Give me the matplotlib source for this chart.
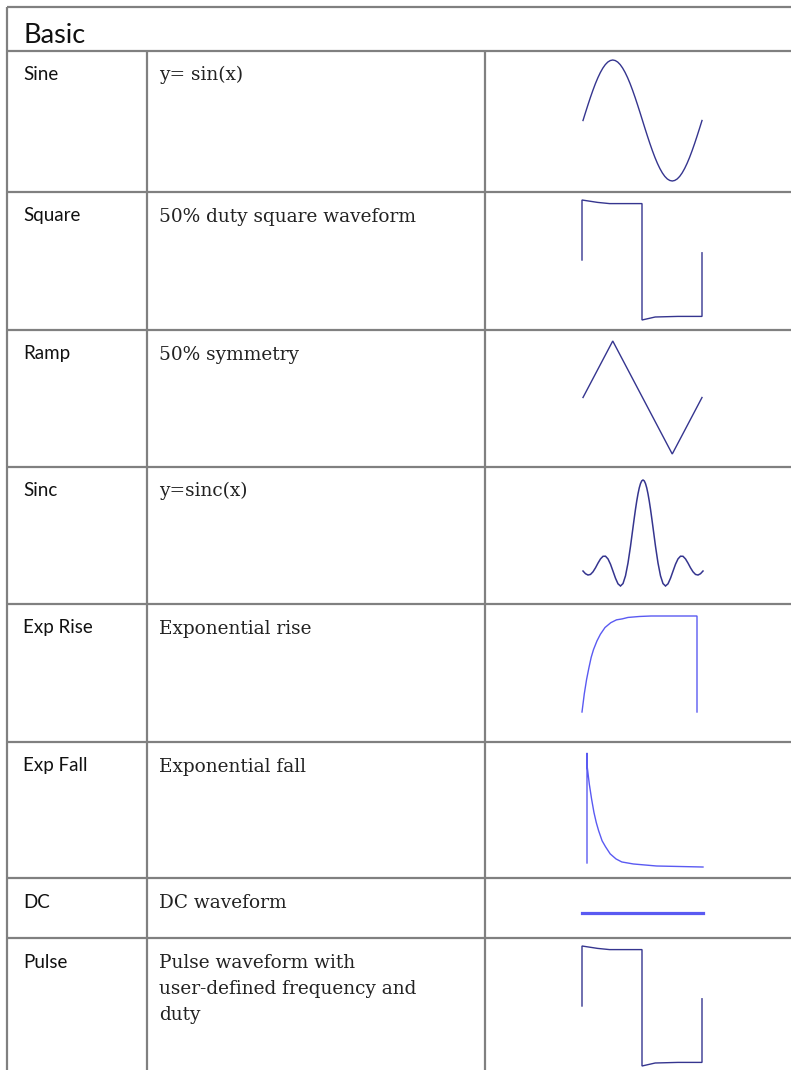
import matplotlib
matplotlib.use("Agg")
import matplotlib.pyplot as plt

# table text
header = "Basic"
names = ["Sine", "Square", "Ramp", "Sinc", "Exp Rise", "Exp Fall", "DC", "Pulse"]
descriptions = ["y= sin(x)",
                "50% duty square waveform",
                "50% symmetry",
                "y=sinc(x)",
                "Exponential rise",
                "Exponential fall",
                "DC waveform",
                "Pulse waveform with\nuser-defined frequency and\nduty"]

# waveform samples
sine_x = [0, 7.5, 15, 22.5, 30, 37.5, 45, 52.5, 60, 67.5, 75, 82.5, 90,
          97.5, 105, 112.5, 120, 127.5, 135, 142.5, 150, 157.5, 165, 172.5, 180,
          187.5, 195, 202.5, 210, 217.5, 225, 232.5, 240, 247.5, 255, 262.5, 270,
          277.5, 285, 292.5, 300, 307.5, 315, 322.5, 330, 337.5, 345, 352.5, 360]
sine_y = [0, 0.131, 0.259, 0.383, 0.5, 0.609, 0.707, 0.793, 0.866, 0.924, 0.966, 0.991, 1,
          0.991, 0.966, 0.924, 0.866, 0.793, 0.707, 0.609, 0.5, 0.383, 0.259, 0.131, 0,
          -0.131, -0.259, -0.383, -0.5, -0.609, -0.707, -0.793, -0.866, -0.924, -0.966, -0.991, -1,
          -0.991, -0.966, -0.924, -0.866, -0.793, -0.707, -0.609, -0.5, -0.383, -0.259, -0.131, 0]

square_x = [0, 0, 0.13, 0.23, 0.5, 0.5, 0.61, 0.8, 1.0, 1.0]
square_y = [0, 1.0, 0.96, 0.94, 0.94, -1.0, -0.95, -0.94, -0.94, 0.12]

ramp_x = [0, 0.25, 0.75, 1.0]
ramp_y = [0, 1, -1, 0]

sinc_x = [-12, -11.5, -11, -10.5, -10, -9.5, -9, -8.5, -8, -7.5, -7, -6.5, -6,
          -5.5, -5, -4.5, -4, -3.5, -3, -2.5, -2, -1.75, -1.5, -1.25, -1, -0.75, -0.5, -0.25, 0,
          0.25, 0.5, 0.75, 1, 1.25, 1.5, 1.75, 2, 2.5, 3, 3.5, 4, 4.5, 5, 5.5, 6,
          6.5, 7, 7.5, 8, 8.5, 9, 9.5, 10, 10.5, 11, 11.5, 12]
sinc_y = [-0.045, -0.076, -0.091, -0.084, -0.054, -0.008, 0.046, 0.094, 0.124, 0.125, 0.094, 0.033, -0.047,
          -0.128, -0.192, -0.217, -0.189, -0.100, 0.047, 0.239, 0.455, 0.562, 0.665, 0.759, 0.841, 0.909, 0.959, 0.990, 1.0,
          0.990, 0.959, 0.909, 0.841, 0.759, 0.665, 0.562, 0.455, 0.239, 0.047, -0.100, -0.189, -0.217, -0.192, -0.128, -0.047,
          0.033, 0.094, 0.125, 0.124, 0.094, 0.046, -0.008, -0.054, -0.084, -0.091, -0.076, -0.045]

exprise_x = [0, 0.02, 0.04, 0.06, 0.08, 0.1, 0.13, 0.16, 0.2, 0.25, 0.3, 0.35, 0.4, 0.5, 0.6, 1.0, 1.0]
exprise_y = [0, 0.19, 0.34, 0.46, 0.57, 0.65, 0.74, 0.81, 0.88, 0.93, 0.96, 0.97, 0.985, 0.995, 1.0, 1.0, 0]

expfall_x = [0, 0, 0, 0.02, 0.04, 0.06, 0.08, 0.1, 0.13, 0.16, 0.2, 0.25, 0.3, 0.35, 0.4, 0.5, 0.6, 1.0]
expfall_y = [0.03, 1.12, 1.0, 0.81, 0.66, 0.53, 0.43, 0.35, 0.25, 0.19, 0.12, 0.07, 0.04, 0.03, 0.02, 0.01, 0.0, -0.01]

dc_x = [0, 1]
dc_y = [0, 0]

pulse_x = [0, 0, 0.13, 0.23, 0.5, 0.5, 0.61, 0.8, 1.0, 1.0]
pulse_y = [0, 1.0, 0.96, 0.94, 0.94, -1.0, -0.95, -0.94, -0.94, 0.12]

waves = [(sine_x, sine_y), (square_x, square_y), (ramp_x, ramp_y), (sinc_x, sinc_y),
         (exprise_x, exprise_y), (expfall_x, expfall_y), (dc_x, dc_y), (pulse_x, pulse_y)]

# layout (pixels): row tops, and per waveform box x0, x1, y(top value), y(bottom value), y limits
W, H = 791, 1070
row_lines = [51, 192, 330, 467, 604, 742, 878, 938]
col_lines = [7, 147, 485]
boxes = [(583, 702, 60, 181, 1, -1),
         (582, 702, 200, 320, 1, -1),
         (583, 702, 341, 454, 1, -1),
         (583, 703, 480, 586, 1, -0.217),
         (582, 697, 616, 712, 1, 0),
         (587, 703, 765, 866, 1, 0),
         (582, 703, 903, 923, 1, -1),
         (582, 702, 946, 1066, 1, -1)]
dark = "#35358f"
bright = "#5a5af2"
colours = [dark, dark, dark, dark, bright, bright, bright, dark]
widths = [1.0, 1.0, 1.0, 1.1, 1.0, 1.0, 2.3, 1.0]

fig = plt.figure(figsize=(W / 100, H / 100), dpi=100)
ax = fig.add_axes([0, 0, 1, 1])
ax.set_xlim(0, W)
ax.set_ylim(H, 0)
ax.axis("off")

grid = "#808080"
lw_grid = 1.6
ax.plot([7, W], [7, 7], color=grid, lw=lw_grid, solid_capstyle="butt")
for y in row_lines:
    ax.plot([7, W], [y, y], color=grid, lw=lw_grid, solid_capstyle="butt")
ax.plot([7, 7], [7, H], color=grid, lw=lw_grid, solid_capstyle="butt")
for x in col_lines[1:]:
    ax.plot([x, x], [51, H], color=grid, lw=lw_grid, solid_capstyle="butt")

ax.text(23, 43, header, fontsize=19.5, family="Lato", va="baseline", color="#111111")

for i in range(len(names)):
    top = row_lines[i]
    ax.text(23, top + 29.5, names[i], fontsize=13.5, family="Lato", va="baseline", color="#111111")
    # multi line description, baseline of first line matches the label
    lines = descriptions[i].split("\n")
    for j in range(len(lines)):
        ax.text(159, top + 29.5 + j * 26, lines[j], fontsize=13.3, family="DejaVu Serif",
                va="baseline", color="#222222")

# waveform cells
for i in range(len(waves)):
    x0, x1, ytop, ybot, vtop, vbot = boxes[i]
    wax = fig.add_axes([x0 / W, 1 - ybot / H, (x1 - x0) / W, (ybot - ytop) / H])
    wx, wy = waves[i]
    wax.plot(wx, wy, color=colours[i], lw=widths[i], clip_on=False, solid_joinstyle="miter")
    wax.set_xlim(min(wx), max(wx))
    wax.set_ylim(vbot, vtop)
    wax.axis("off")

fig.savefig("out.png", dpi=100)
